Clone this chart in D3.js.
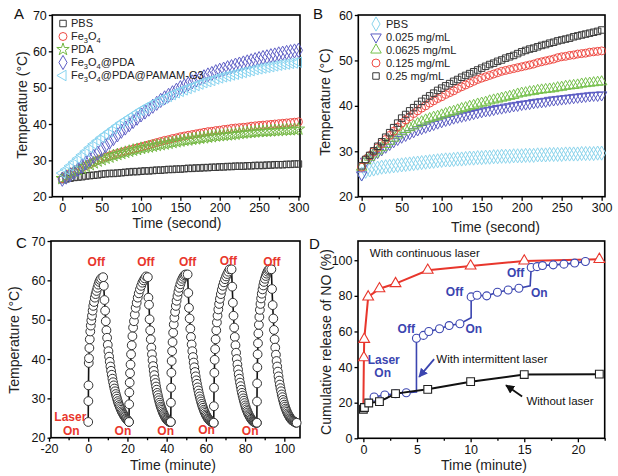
<!DOCTYPE html>
<html><head><meta charset="utf-8">
<script src="https://cdn.jsdelivr.net/npm/d3@7"></script>
<style>body{margin:0;background:#fff}svg{display:block}</style>
</head><body><svg id="c" width="618" height="476"></svg>
<script>
// ---------- DATA ----------
// Panel A (time in s, every 5 s)
const aTime = d3.range(0, 301, 5);
const aPBS = [24.7,24.9,25.1,25.3,25.4,25.5,25.7,25.8,25.9,26.0,26.2,26.3,26.4,26.4,26.5,26.6,26.7,26.8,26.9,26.9,27.0,27.1,27.1,27.2,27.3,27.3,27.4,27.5,27.5,27.6,27.6,27.7,27.8,27.8,27.9,27.9,28.0,28.0,28.1,28.1,28.2,28.2,28.3,28.3,28.4,28.4,28.4,28.5,28.5,28.6,28.6,28.6,28.7,28.7,28.8,28.8,28.8,28.9,28.9,29.0,29.0];
const aFe3O4 = [25.0,25.7,26.3,26.9,27.5,28.0,28.5,29.0,29.5,30.0,30.5,30.9,31.2,31.6,31.9,32.2,32.5,32.8,33.1,33.4,33.7,34.0,34.3,34.6,34.9,35.2,35.5,35.7,36.0,36.2,36.5,36.7,36.9,37.1,37.3,37.5,37.7,37.9,38.0,38.2,38.3,38.5,38.6,38.8,38.9,39.0,39.1,39.2,39.4,39.5,39.6,39.7,39.8,39.9,40.0,40.1,40.2,40.3,40.4,40.5,40.6];
const aPDA = [25.0,25.6,26.2,26.8,27.3,27.8,28.3,28.8,29.3,29.8,30.2,30.6,30.9,31.3,31.6,31.9,32.2,32.5,32.8,33.0,33.3,33.5,33.7,33.9,34.1,34.3,34.5,34.7,34.9,35.1,35.3,35.5,35.6,35.8,35.9,36.1,36.2,36.4,36.5,36.7,36.8,36.9,37.0,37.1,37.2,37.4,37.5,37.6,37.7,37.8,37.9,38.0,38.0,38.1,38.2,38.2,38.3,38.4,38.4,38.5,38.6];
const aFePDA = [24.8,25.4,26.0,26.7,27.5,28.4,29.3,30.2,31.1,32.0,33.0,34.0,35.0,36.0,37.0,38.0,38.9,39.8,40.7,41.6,42.5,43.3,44.1,44.9,45.7,46.5,47.2,47.9,48.6,49.3,50.0,50.5,51.0,51.6,52.1,52.6,53.0,53.5,53.9,54.4,54.8,55.1,55.5,55.8,56.2,56.5,56.8,57.1,57.4,57.7,58.0,58.3,58.5,58.8,59.0,59.3,59.5,59.7,59.9,60.1,60.3];
const aPAMAM = [26.5,27.5,28.5,29.5,30.5,31.5,32.5,33.5,34.5,35.4,36.3,37.1,37.9,38.7,39.5,40.3,41.0,41.7,42.4,43.1,43.8,44.4,45.0,45.5,46.1,46.6,47.1,47.6,48.1,48.6,49.0,49.4,49.8,50.2,50.6,51.0,51.4,51.7,52.0,52.4,52.7,53.0,53.2,53.5,53.7,54.0,54.2,54.5,54.7,55.0,55.2,55.4,55.6,55.8,56.0,56.2,56.4,56.5,56.7,56.8,57.0];
const aNames = ["PBS","Fe_3O_4","PDA","Fe_3O_4@PDA","Fe_3O_4@PDA@PAMAM-G3"];

// Panel B (time in s, every 5 s)
const bTime = d3.range(0, 301, 5);
const bPBS = [25.0,25.6,25.9,26.1,26.3,26.5,26.6,26.7,26.8,26.9,27.0,27.1,27.2,27.3,27.4,27.5,27.6,27.7,27.8,27.9,28.0,28.1,28.1,28.2,28.3,28.3,28.4,28.5,28.5,28.6,28.6,28.7,28.7,28.8,28.8,28.9,28.9,28.9,29.0,29.0,29.0,29.1,29.1,29.1,29.2,29.2,29.2,29.3,29.3,29.3,29.3,29.4,29.4,29.4,29.4,29.5,29.5,29.5,29.5,29.6,29.6];
const b025 = [24.8,27.8,28.5,29.1,29.7,30.3,30.9,31.5,32.1,32.6,33.1,33.5,33.9,34.3,34.7,35.0,35.3,35.6,35.9,36.2,36.5,36.8,37.0,37.3,37.5,37.7,37.9,38.1,38.3,38.5,38.7,38.9,39.0,39.2,39.4,39.5,39.7,39.8,40.0,40.1,40.3,40.4,40.5,40.7,40.8,40.9,41.0,41.2,41.3,41.4,41.5,41.6,41.7,41.8,41.9,42.0,42.1,42.2,42.3,42.3,42.4];
const b0625 = [26.5,28.0,28.7,29.4,30.1,30.8,31.5,32.2,32.9,33.6,34.3,34.8,35.2,35.6,36.1,36.5,36.9,37.2,37.5,37.7,38.0,38.3,38.6,38.8,39.1,39.4,39.6,39.9,40.1,40.4,40.6,40.8,41.1,41.3,41.5,41.7,41.9,42.1,42.3,42.6,42.8,42.9,43.1,43.2,43.4,43.5,43.6,43.7,43.8,44.0,44.1,44.3,44.4,44.5,44.6,44.8,44.9,45.0,45.1,45.2,45.3];
const b125 = [26.5,28.2,29.0,29.9,30.8,31.7,32.6,33.5,34.4,35.3,36.2,36.9,37.6,38.3,38.9,39.5,40.0,40.6,41.1,41.6,42.0,42.5,42.9,43.3,43.8,44.2,44.6,45.0,45.4,45.8,46.1,46.4,46.7,47.0,47.3,47.6,47.8,48.0,48.2,48.4,48.6,48.8,49.0,49.2,49.5,49.7,49.9,50.1,50.3,50.6,50.8,50.9,51.1,51.2,51.4,51.5,51.6,51.8,51.9,52.0,52.1];
const b25 = [26.8,28.2,29.1,30.1,31.1,32.1,33.1,34.1,35.2,36.2,37.3,38.1,38.9,39.6,40.3,41.0,41.6,42.2,42.8,43.4,43.9,44.4,44.9,45.4,45.8,46.3,46.7,47.1,47.5,47.9,48.3,48.7,49.1,49.4,49.8,50.1,50.5,50.8,51.1,51.5,51.9,52.2,52.5,52.7,53.0,53.3,53.5,53.8,54.0,54.3,54.5,54.7,54.9,55.2,55.4,55.6,55.8,56.0,56.2,56.4,56.7];
const bNames = ["PBS","0.025 mg/mL","0.0625 mg/mL","0.125 mg/mL","0.25 mg/mL"];

// Panel C (time in minutes)
const cOn = [0, 20.8, 42.1, 64.0, 86.0];
const cPeak = [6.6, 29.5, 49.7, 72.1, 92.4];
const cCoolStart = [7.6, 30.4, 50.7, 73.1, 93.4];
const cCoolEnd = [20.8, 42.1, 64.0, 86.0, 106.3];
const cHeatFrac = [0,0.01,0.02,0.04,0.06,0.09,0.12,0.16,0.2,0.24,0.29,0.34,0.39,0.45,0.51,0.57,0.64,0.71,0.78,0.85,0.92,1];
const cHeat = [
 [24.0,29.3,33.3,39.0,40.2,42.8,45.0,47.0,48.5,49.8,51.0,52.3,53.5,54.5,55.6,56.5,57.3,58.1,58.9,59.6,60.1,60.5],
 [24.0,28.5,31.5,34.0,36.4,38.6,41.2,43.5,45.8,48.0,49.6,51.3,53.0,54.3,55.6,56.7,57.7,58.6,59.4,60.0,60.5,61.0],
 [24.0,28.9,32.7,36.5,39.5,42.0,44.3,46.7,48.8,50.5,52.0,53.5,54.8,56.0,57.1,58.1,59.0,59.8,60.4,60.9,61.3,61.5],
 [23.8,28.0,32.7,36.5,39.8,42.5,45.0,47.3,49.3,51.0,52.6,54.0,55.3,56.5,57.6,58.6,59.5,60.3,61.0,61.6,62.2,62.8],
 [23.8,29.2,33.8,37.9,41.2,44.0,46.5,48.7,50.7,52.5,54.0,55.4,56.6,57.7,58.7,59.6,60.4,61.1,61.7,62.2,62.6,62.8]
];
const cCool = [
 [60.8,58.6,55.0,52.3,49.6,47.3,45.4,43.6,42.0,40.6,39.3,38.1,37.0,36.0,35.0,34.1,33.3,32.5,31.8,31.1,30.5,29.9,29.3,28.8,28.3,27.9,27.5,27.1,26.7,26.4,26.1,25.8,25.5,25.3,25.0,24.8,24.6,24.4,24.2,24.0],
 [60.8,55.6,53.8,50.1,47.3,45.0,42.9,41.2,39.7,38.2,37.0,35.9,34.8,33.9,33.0,32.2,31.4,30.8,30.1,29.5,28.9,28.4,27.9,27.5,27.1,26.7,26.3,26.0,25.7,25.4,25.1,24.9,24.7,24.5,24.3,24.2,24.1,24.0,24.0,24.0],
 [61.5,56.8,53.0,50.3,47.7,45.6,43.7,42.0,40.5,39.1,37.9,36.7,35.6,34.6,33.7,32.8,32.0,31.2,30.5,29.8,29.2,28.6,28.1,27.6,27.1,26.7,26.3,25.9,25.6,25.3,25.0,24.8,24.6,24.4,24.2,24.1,24.0,23.9,23.8,23.8],
 [62.8,58.4,54.3,51.0,48.0,45.6,43.5,41.6,40.0,38.6,37.3,36.1,35.0,34.0,33.1,32.2,31.4,30.7,30.0,29.4,28.8,28.2,27.7,27.2,26.8,26.4,26.0,25.7,25.4,25.1,24.8,24.6,24.4,24.2,24.1,24.0,23.9,23.8,23.8,23.8],
 [62.8,57.8,53.7,50.3,47.4,45.0,42.9,41.1,39.5,38.1,36.8,35.6,34.5,33.5,32.6,31.8,31.0,30.3,29.6,29.0,28.4,27.9,27.4,27.0,26.6,26.2,25.9,25.6,25.3,25.0,24.8,24.6,24.4,24.3,24.2,24.1,24.0,23.9,23.8,23.8]
];
const cOffLabels = [[4.1,64.9],[29.4,64.9],[50.7,64.9],[71.5,65.1],[93.7,64.9]];
const cOnLabels = [[-8.6,21.6],[17.7,21.6],[39.5,21.6],[60.3,22.0],[82.6,21.6]];

// Panel D (time in minutes, % released)
const dContT = [0, 0.05, 0.08, 0.45, 1.5, 3, 6, 10, 15, 22];
const dContV = [18, 45.3, 55.6, 79.4, 84.0, 86.9, 94.4, 96.8, 99.6, 100.5];
const dInterT = [0, 0.5, 1, 2, 3, 4, 4.95, 4.95, 5.6, 6.1, 7.1, 8, 9, 10.05, 10.05, 10.6, 11.5, 12.5, 13.5, 14.5, 15.55, 15.65, 16.2, 16.7, 17.7, 18.7, 19.7, 20.7];
const dInterV = [16.5, 20, 23.2, 24.3, 25, 25.6, 26, 56.2, 57.8, 60, 61.5, 63.3, 64.3, 67.7, 79.4, 80.3, 80, 82, 83.3, 84.3, 85.6, 95.9, 96.4, 97, 97.4, 97.8, 98.4, 99.3];
const dNoneT = [0, 0.1, 0.5, 1.5, 3, 6, 10, 15, 22];
const dNoneV = [16.3, 17.3, 19.8, 20.6, 25.1, 27.5, 31.8, 35.8, 36.0];

// ---------- DRAWING ----------
const FONT = '"Liberation Sans", Arial, Helvetica, sans-serif';
const svg = d3.select('#c').style('font-family', FONT);

function frame(cfg){
  const {x, y, fx, fy} = cfg;
  const g = svg.append('g');
  if (cfg.xMinor) g.append('g').attr('transform', `translate(0,${fy[1]})`)
    .call(d3.axisBottom(x).tickValues(cfg.xMinor).tickSize(2.5).tickFormat(''));
  g.append('g').attr('transform', `translate(0,${fy[1]})`)
    .call(d3.axisBottom(x).tickValues(cfg.xTicks).tickSize(4).tickPadding(2.5).tickFormat(d => String(d)));
  g.append('g').attr('transform', `translate(${fx[0]},0)`)
    .call(d3.axisLeft(y).tickValues(cfg.yTicks).tickSize(3.5).tickPadding(2).tickFormat(d => String(d)));
  g.selectAll('.domain').remove();
  g.selectAll('.tick line').attr('stroke', '#000').attr('stroke-width', 1.3);
  g.selectAll('.tick text').attr('font-size', 12.5).attr('font-family', FONT).attr('fill', '#111');
  g.append('rect').attr('x', fx[0]).attr('y', fy[0]).attr('width', fx[1]-fx[0]).attr('height', fy[1]-fy[0])
    .attr('fill', 'none').attr('stroke', '#000').attr('stroke-width', 1.6);
  svg.append('text').attr('x', cfg.xl[0]).attr('y', cfg.xl[1]).attr('text-anchor', 'middle')
    .attr('font-size', 14).attr('fill', '#222').text(cfg.xLabel);
  svg.append('text').attr('transform', `translate(${cfg.yl[0]},${cfg.yl[1]}) rotate(-90)`)
    .attr('text-anchor', 'middle').attr('dy', '0.35em').attr('font-size', 14)
    .attr('fill', '#222').text(cfg.yLabel);
  svg.append('text').attr('x', cfg.letter[0]).attr('y', cfg.letter[1]).attr('font-size', 15)
    .attr('fill', '#111').text(cfg.letterText);
}

function rich(sel, str){
  const parts = str.split(/(_\d)/).filter(s => s.length);
  let sub = false;
  parts.forEach(p => {
    if (p[0] === '_') {
      sel.append('tspan').attr('font-size', 7.5).attr('dy', 2.5).text(p.slice(1));
      sub = true;
    } else {
      const t = sel.append('tspan').text(p);
      if (sub) { t.attr('dy', -2.5); sub = false; }
    }
  });
}

const sym = {
  square: {type: d3.symbolSquare, size: 42, rot: 0},
  circle: {type: d3.symbolCircle, size: 50, rot: 0},
  star: {type: d3.symbolStar, size: 48, rot: 0},
  diamond: {type: d3.symbolDiamond, size: 58, rot: 0},
  left: {type: d3.symbolTriangle, size: 48, rot: -90},
  down: {type: d3.symbolTriangle, size: 48, rot: 180},
  up: {type: d3.symbolTriangle, size: 48, rot: 0}
};

function markers(g, pts, x, y, s, color, fill, sw){
  g.selectAll(null).data(pts).join('path')
    .attr('d', d3.symbol().type(s.type).size(s.size))
    .attr('transform', d => `translate(${x(d[0])},${y(d[1])}) rotate(${s.rot})`)
    .attr('fill', fill).attr('stroke', color).attr('stroke-width', sw || 1);
}

// ===== Panel A =====
const xA = d3.scaleLinear().domain([-12.7, 302]).range([52.3, 300]);
const yA = d3.scaleLinear().domain([20, 70]).range([196.7, 15]);
frame({x: xA, y: yA, fx: [52.3, 300], fy: [15, 196.7], xTicks: [0,50,100,150,200,250,300],
  xMinor: [25,75,125,175,225,275], yTicks: [20,30,40,50,60,70],
  xl: [177, 228], xLabel: 'Time (second)', yl: [22, 105], yLabel: 'Temperature (°C)',
  letter: [14, 19], letterText: 'A'});
const aSeries = [aPBS, aFe3O4, aPDA, aFePDA, aPAMAM];
const aColors = ['#3a3a3a', '#ee4a44', '#74b843', '#5f5fc6', '#88d4f0'];
const aSyms = [sym.square, sym.circle, sym.star, sym.diamond, sym.left];
const gA = svg.append('g');
aSeries.forEach((s, i) => markers(gA.append('g'), aTime.map((t, j) => [t, s[j]]), xA, yA, aSyms[i], aColors[i], 'none', 1));
aNames.forEach((n, i) => {
  const yy = 23.5 + i * 13;
  const s = aSyms[i];
  svg.append('path').attr('d', d3.symbol().type(s.type).size(s.size))
    .attr('transform', `translate(63,${yy}) rotate(${s.rot})`).attr('fill', 'none').attr('stroke', aColors[i]);
  const t = svg.append('text').attr('x', 71).attr('y', yy + 3.5).attr('font-size', 11).attr('fill', '#222');
  rich(t, n);
});

// ===== Panel B =====
const xB = d3.scaleLinear().domain([-4.2, 304.2]).range([358.3, 605]);
const yB = d3.scaleLinear().domain([20, 60]).range([196.7, 15]);
frame({x: xB, y: yB, fx: [358.3, 605], fy: [15, 196.7], xTicks: [0,50,100,150,200,250,300],
  xMinor: [25,75,125,175,225,275], yTicks: [20,30,40,50,60],
  xl: [495.5, 232], xLabel: 'Time (second)', yl: [325.5, 102], yLabel: 'Temperature (°C)',
  letter: [313, 19], letterText: 'B'});
const bSeries = [bPBS, b025, b0625, b125, b25];
const bColors = ['#8ad4ec', '#5b5cc3', '#75c04b', '#ef4c45', '#3a3a3a'];
const bSyms = [sym.diamond, sym.down, sym.up, sym.circle, sym.square];
const gB = svg.append('g');
bSeries.forEach((s, i) => markers(gB.append('g'), bTime.map((t, j) => [t, s[j]]), xB, yB, bSyms[i], bColors[i], 'none', 1));
bNames.forEach((n, i) => {
  const yy = 24 + i * 13;
  const s = bSyms[i];
  svg.append('path').attr('d', d3.symbol().type(s.type).size(s.size))
    .attr('transform', `translate(376,${yy}) rotate(${s.rot})`).attr('fill', 'none').attr('stroke', bColors[i]);
  svg.append('text').attr('x', 386).attr('y', yy + 4).attr('font-size', 11).attr('fill', '#222').text(n);
});

// ===== Panel C =====
const xC = d3.scaleLinear().domain([-20, 108]).range([49, 300]);
const yC = d3.scaleLinear().domain([20, 70]).range([437.7, 241]);
frame({x: xC, y: yC, fx: [51, 300], fy: [241, 437.7], xTicks: [-20,0,20,40,60,80,100],
  xMinor: [-10,10,30,50,70,90], yTicks: [20,30,40,50,60,70],
  xl: [173, 469.5], xLabel: 'Time (minute)', yl: [14, 340], yLabel: 'Temperature (°C)',
  letter: [16, 248], letterText: 'C'});
const cPts = [];
cOn.forEach((on, i) => {
  cHeat[i].forEach((v, j) => cPts.push([on + (cPeak[i] - on) * cHeatFrac[j], v]));
  const n = cCool[i].length;
  cCool[i].forEach((v, j) => cPts.push([cCoolStart[i] + (cCoolEnd[i] - cCoolStart[i]) * j / (n - 1), v]));
});
const gC = svg.append('g');
gC.append('path').datum(cPts).attr('d', d3.line().x(d => xC(d[0])).y(d => yC(d[1])))
  .attr('fill', 'none').attr('stroke', '#111').attr('stroke-width', 1.6);
gC.selectAll('circle').data(cPts).join('circle')
  .attr('cx', d => xC(d[0])).attr('cy', d => yC(d[1])).attr('r', 4.4)
  .attr('fill', '#fff').attr('stroke', '#333').attr('stroke-width', 1);
const red = '#e8362c';
cOffLabels.forEach(p => svg.append('text').attr('x', xC(p[0])).attr('y', yC(p[1]) + 4.5)
  .attr('text-anchor', 'middle').attr('font-size', 12).attr('font-weight', 'bold').attr('fill', red).text('Off'));
cOnLabels.forEach(p => svg.append('text').attr('x', xC(p[0])).attr('y', yC(p[1]) + 4)
  .attr('text-anchor', 'middle').attr('font-size', 12).attr('font-weight', 'bold').attr('fill', red).text('On'));
svg.append('text').attr('x', xC(-9.1)).attr('y', yC(25.3) + 4.5).attr('text-anchor', 'middle')
  .attr('font-size', 12).attr('font-weight', 'bold').attr('fill', red).text('Laser');

// ===== Panel D =====
const xD = d3.scaleLinear().domain([-0.5, 22.5]).range([358, 604.7]);
const yD = d3.scaleLinear().domain([0, 110.8]).range([438.3, 241]);
frame({x: xD, y: yD, fx: [358, 604.7], fy: [241, 438.3], xTicks: [0,5,10,15,20],
  xMinor: [2.5,7.5,12.5,17.5,22.5], yTicks: [0,20,40,60,80,100],
  xl: [484, 469.5], xLabel: 'Time (minute)', yl: [326, 342], yLabel: 'Cumulative release of NO (%)',
  letter: [309, 249], letterText: 'D'});
const blue = '#3b45b0';
const gD = svg.append('g');
const lineD = d3.line().x(d => xD(d[0])).y(d => yD(d[1]));
const cont = dContT.map((t, i) => [t, dContV[i]]);
const inter = dInterT.map((t, i) => [t, dInterV[i]]);
const none = dNoneT.map((t, i) => [t, dNoneV[i]]);
gD.append('path').datum(cont).attr('d', lineD).attr('fill', 'none').attr('stroke', '#e8362c').attr('stroke-width', 2);
gD.append('path').datum(inter).attr('d', lineD).attr('fill', 'none').attr('stroke', blue).attr('stroke-width', 1.6);
markers(gD.append('g'), cont.slice(1), xD, yD, {type: d3.symbolTriangle, size: 50, rot: 0}, '#e8362c', '#fff', 1.1);
markers(gD.append('g'), inter.filter((d, i) => i > 1 && i !== 6 && i !== 13 && i !== 20), xD, yD, sym.circle, blue, '#fff', 1.1);
gD.append('path').datum(none).attr('d', lineD).attr('fill', 'none').attr('stroke', '#111').attr('stroke-width', 2);
markers(gD.append('g'), none, xD, yD, {type: d3.symbolSquare, size: 60, rot: 0}, '#222', '#fff', 1.1);

const defs = svg.append('defs');
[['ab', blue], ['ak', '#111']].forEach(([id, c]) => defs.append('marker').attr('id', id)
  .attr('viewBox', '0 0 10 10').attr('refX', 9).attr('refY', 5).attr('markerWidth', 5).attr('markerHeight', 5)
  .attr('orient', 'auto').append('path').attr('d', 'M0,0L10,5L0,10z').attr('fill', c));
svg.append('line').attr('x1', xD(6.6)).attr('y1', yD(44.5)).attr('x2', xD(5.2)).attr('y2', yD(34.5))
  .attr('stroke', blue).attr('stroke-width', 1.8).attr('marker-end', 'url(#ab)');
svg.append('line').attr('x1', xD(14.8)).attr('y1', yD(23.5)).attr('x2', xD(13.3)).attr('y2', yD(29.8))
  .attr('stroke', '#111').attr('stroke-width', 1.8).attr('marker-end', 'url(#ak)');

const dText = (t, v, s, opt) => svg.append('text').attr('x', xD(t)).attr('y', yD(v) + 4)
  .attr('text-anchor', opt.anchor || 'middle').attr('font-size', opt.size || 12)
  .attr('font-weight', opt.bold ? 'bold' : 'normal').attr('fill', opt.color || '#111').text(s);
dText(0.6, 104.3, 'With continuous laser', {anchor: 'start', size: 11.5});
dText(4.0, 61.2, 'Off', {bold: true, color: blue});
dText(10.3, 61.6, 'On', {bold: true, color: blue});
dText(8.5, 82.2, 'Off', {bold: true, color: blue});
dText(16.4, 81.5, 'On', {bold: true, color: blue});
dText(14.2, 92.7, 'Off', {bold: true, color: blue});
dText(1.9, 44, 'Laser', {bold: true, color: blue});
dText(1.8, 36.9, 'On', {bold: true, color: blue});
dText(6.8, 44.4, 'With intermittent laser', {anchor: 'start', size: 11.5});
dText(15.2, 21, 'Without laser', {anchor: 'start', size: 11.5});
</script></body></html>
